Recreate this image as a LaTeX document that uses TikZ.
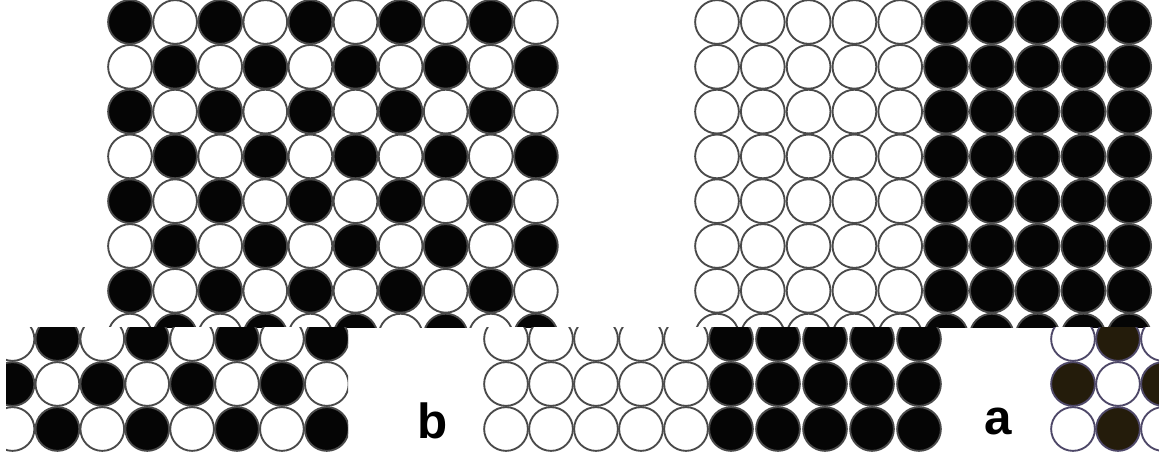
\documentclass[tikz,border=0pt]{standalone}
\usepackage{fontspec}
\setsansfont{Liberation Sans}
\definecolor{ring}{HTML}{4A4A4A}
\definecolor{ink}{HTML}{050505}
\definecolor{umber}{HTML}{241C0B}
\definecolor{ringb}{HTML}{4E4868}

\begin{document}
\begin{tikzpicture}[x=0.75pt, y=-0.75pt, line width=1.4pt,
    bead/.style={draw=ring, fill=#1},
    bead/.default=white,
    tag/.style={font=\sffamily\bfseries\fontsize{37}{40}\selectfont, inner sep=0pt}]
  \useasboundingbox (0,0) rectangle (1159,460);
  % upper half: two large panels, cut at the strip
  \begin{scope}
    \clip (0,0) rectangle (1159,327);
    % left panel, chequered
    \foreach \r in {0,...,7}
      \foreach \c in {0,...,9} {
        \ifodd\numexpr\r+\c\relax \def\fc{white}\else\def\fc{ink}\fi
        \path[bead=\fc] (130+45.1*\c, 22+44.8*\r) circle (16.4pt);
      }
    % right panel, white half and black half
    \foreach \r in {0,...,7}
      \foreach \c in {0,...,4} {
        \path[bead] (717+45.8*\c, 22+44.8*\r) circle (16.4pt);
        \path[bead=ink] (946+45.8*\c, 22+44.8*\r) circle (16.4pt);
      }
  \end{scope}
  % lower strip
  \begin{scope}
    \clip (6,327) rectangle (348,460);
    \foreach \r in {0,1,2}
      \foreach \c in {0,...,7} {
        \ifodd\numexpr\r+\c\relax \def\fc{ink}\else\def\fc{white}\fi
        \path[bead=\fc] (12.5+44.9*\c, 339+45*\r) circle (16.4pt);
      }
  \end{scope}
  \node[tag] (lblb) at (433,421) {b};
  \begin{scope}
    \clip (480,327) rectangle (945,460);
    \foreach \r in {0,1,2}
      \foreach \c in {0,...,4} {
        \path[bead] (506+45*\c, 339+45*\r) circle (16.4pt);
        \path[bead=ink] (731+47*\c, 339+45*\r) circle (16.4pt);
      }
  \end{scope}
  \node[tag] (lbla) at (998,421) {a};
  \begin{scope}
    \clip (1045,327) rectangle (1159,460);
    \foreach \r in {0,1,2}
      \foreach \c in {0,1,2} {
        \ifodd\numexpr\r+\c\relax \def\fc{umber}\else\def\fc{white}\fi
        \path[draw=ringb, fill=\fc] (1073+45*\c, 339+45*\r) circle (16.4pt);
      }
  \end{scope}
\end{tikzpicture}
\end{document}
